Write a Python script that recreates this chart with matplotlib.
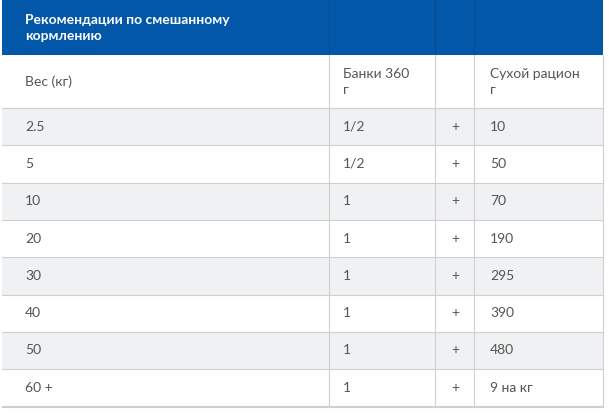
import matplotlib
matplotlib.use("Agg")
import matplotlib.pyplot as plt
from matplotlib.patches import Rectangle

title = "Рекомендации по смешанному\nкормлению"
headers = ["Вес (кг)", "Банки 360\nг", "", "Сухой рацион\nг"]
weights = ["2.5", "5", "10", "20", "30", "40", "50", "60 +"]
cans = ["1/2", "1/2", "1", "1", "1", "1", "1", "1"]
plus = ["+"] * 8
dry = ["10", "50", "70", "190", "295", "390", "480", "9 на кг"]

W, H = 609, 415
fig = plt.figure(figsize=(W/100, H/100), dpi=100)
ax = fig.add_axes([0, 0, 1, 1])
ax.set_xlim(0, W); ax.set_ylim(H, 0); ax.axis("off")

xs = [2, 329, 435, 474, 603]
blue = "#0257a8"; gray = "#f0f1f2"; line = "#cfcfcf"
font = "Lato"
ax.add_patch(Rectangle((xs[0], 0), xs[-1]-xs[0], 55, color=blue, lw=0))
ax.text(25, 28, title, color="white", fontsize=10, fontweight="bold", va="center", ha="left", family=font, linespacing=1.3)
for x in xs[1:-1]:
    ax.plot([x, x], [0, 55], color="#0a4a8f", lw=0.8)

rh = 37.3
tops = [55, 108] + [108 + rh*(i+1) for i in range(len(weights))]
cols_x = [25, 343, 455, 490]
for j, h in enumerate(headers):
    if h:
        ax.text(cols_x[j], 82, h, fontsize=10, color="#555555", va="center", ha="left", family=font, linespacing=1.3)
rows = list(zip(weights, cans, plus, dry))
for i, r in enumerate(rows):
    y0 = tops[i+1]; y1 = min(tops[i+2], 407)
    if i % 2 == 0:
        ax.add_patch(Rectangle((xs[0], y0), xs[-1]-xs[0], y1-y0, color=gray, lw=0))
    yc = y0 + rh/2
    for j, v in enumerate(r):
        ax.text(cols_x[j], yc, v, fontsize=10, color="#555555", va="center",
                ha="center" if j == 2 else "left", family=font)
for y in tops[1:]:
    if y <= 407:
        ax.plot([xs[0], xs[-1]], [y, y], color=line, lw=0.8)
ax.plot([xs[0], xs[-1]], [407, 407], color=line, lw=0.8)
for x in xs[1:-1]:
    ax.plot([x, x], [55, 407], color=line, lw=0.8)
ax.plot([xs[-1], xs[-1]], [55, 407], color=line, lw=0.8)
fig.savefig("out.png", dpi=100)
